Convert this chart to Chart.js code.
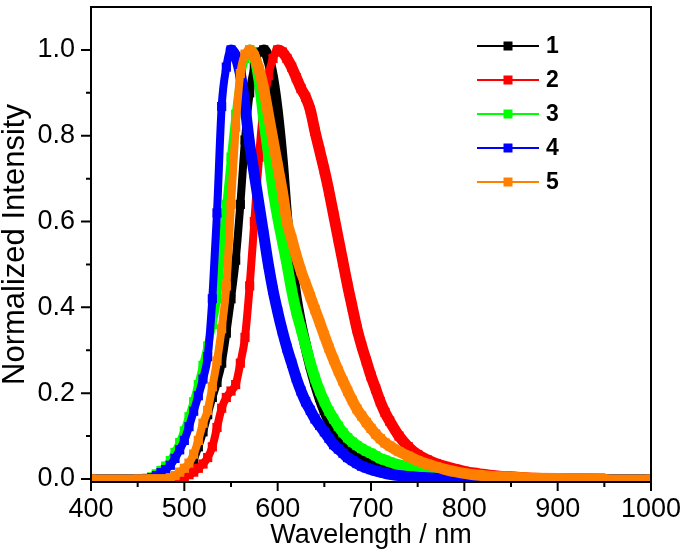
<!DOCTYPE html>
<html>
<head>
<meta charset="utf-8">
<script src="https://cdn.jsdelivr.net/npm/chart.js@4.4.1/dist/chart.umd.min.js"></script>
<style>
  html, body { margin: 0; padding: 0; background: #fff; }
</style>
</head>
<body>
<canvas id="spectra" width="686" height="554"></canvas>
<script>
// Wavelength grid (nm) shared by all five emission spectra
const wavelengths = [400, 450, 460, 465, 470, 475, 480, 485, 490, 495, 500, 505, 510, 515, 520, 525, 530, 535, 540, 545,
  550, 555, 560, 565, 570, 575, 580, 585, 590, 595, 600, 605, 610, 615, 620, 625, 630, 635, 640, 645,
  650, 655, 660, 665, 670, 675, 680, 685, 690, 695, 700, 705, 710, 715, 720, 730, 740, 750, 760, 770,
  780, 790, 800, 810, 820, 830, 840, 850, 875, 900, 950, 1000];

const series1 = [0, 0, 0, 0, 0, 0, 0, 0, 0, 0.002, 0.008, 0.025, 0.045, 0.075, 0.11, 0.15, 0.19, 0.225, 0.27, 0.34,
  0.42, 0.51, 0.64, 0.79, 0.9, 0.96, 0.995, 1.0, 0.98, 0.93, 0.85, 0.74, 0.6, 0.5, 0.42, 0.36, 0.31, 0.265, 0.225, 0.19,
  0.16, 0.135, 0.115, 0.097, 0.082, 0.07, 0.06, 0.051, 0.044, 0.038, 0.033, 0.028, 0.024, 0.02, 0.017, 0.012, 0.008, 0.005, 0.003, 0.002,
  0.001, 0, 0, 0, 0, 0, 0, 0, 0, 0, 0, 0];

const series2 = [0, 0, 0, 0, 0, 0, 0, 0, 0, 0.001, 0.004, 0.01, 0.016, 0.025, 0.035, 0.05, 0.075, 0.12, 0.165, 0.19,
  0.205, 0.22, 0.27, 0.33, 0.45, 0.6, 0.75, 0.87, 0.94, 0.98, 1.0, 0.995, 0.98, 0.96, 0.935, 0.91, 0.89, 0.86, 0.81, 0.765,
  0.72, 0.67, 0.615, 0.56, 0.505, 0.45, 0.4, 0.35, 0.31, 0.275, 0.24, 0.21, 0.18, 0.155, 0.135, 0.1, 0.075, 0.057, 0.045, 0.036,
  0.029, 0.023, 0.018, 0.014, 0.011, 0.008, 0.006, 0.005, 0.002, 0.001, 0, 0];

const series3 = [0, 0, 0.002, 0.005, 0.012, 0.02, 0.03, 0.043, 0.062, 0.085, 0.112, 0.145, 0.18, 0.22, 0.265, 0.31, 0.36, 0.42, 0.54, 0.64,
  0.75, 0.85, 0.93, 0.98, 1.0, 0.985, 0.93, 0.84, 0.76, 0.675, 0.61, 0.555, 0.5, 0.44, 0.39, 0.35, 0.31, 0.27, 0.235, 0.205,
  0.18, 0.158, 0.14, 0.123, 0.108, 0.096, 0.086, 0.078, 0.071, 0.065, 0.06, 0.054, 0.048, 0.044, 0.04, 0.033, 0.028, 0.02, 0.014, 0.009,
  0.006, 0.004, 0.002, 0.001, 0, 0, 0, 0, 0, 0, 0, 0];

const series4 = [0, 0, 0, 0.003, 0.008, 0.015, 0.022, 0.032, 0.048, 0.068, 0.09, 0.122, 0.158, 0.194, 0.233, 0.285, 0.42, 0.62, 0.868, 0.96,
  1.0, 0.985, 0.945, 0.87, 0.78, 0.71, 0.64, 0.57, 0.5, 0.44, 0.39, 0.345, 0.305, 0.27, 0.235, 0.205, 0.18, 0.16, 0.14, 0.125,
  0.11, 0.095, 0.08, 0.07, 0.06, 0.05, 0.043, 0.036, 0.03, 0.026, 0.022, 0.019, 0.016, 0.013, 0.011, 0.008, 0.006, 0.004, 0.003, 0.002,
  0.001, 0, 0, 0, 0, 0, 0, 0, 0, 0, 0, 0];

const series5 = [0, 0, 0, 0, 0, 0, 0, 0.003, 0.008, 0.016, 0.025, 0.037, 0.058, 0.09, 0.13, 0.16, 0.215, 0.275, 0.35, 0.45,
  0.64, 0.82, 0.945, 0.99, 1.0, 0.985, 0.955, 0.91, 0.85, 0.79, 0.73, 0.67, 0.6, 0.56, 0.52, 0.485, 0.455, 0.425, 0.395, 0.365,
  0.335, 0.305, 0.278, 0.252, 0.228, 0.205, 0.183, 0.163, 0.147, 0.132, 0.118, 0.105, 0.094, 0.084, 0.077, 0.064, 0.053, 0.043, 0.035, 0.028,
  0.022, 0.017, 0.013, 0.01, 0.008, 0.006, 0.005, 0.004, 0.002, 0.001, 0, 0];

const seriesLabels = ['1', '2', '3', '4', '5'];
const xTicks = [400, 500, 600, 700, 800, 900, 1000];
const xMinorTicks = [450, 550, 650, 750, 850, 950];
const yTicks = [0.0, 0.2, 0.4, 0.6, 0.8, 1.0];
const yMinorTicks = [0.1, 0.3, 0.5, 0.7, 0.9];

const colors = ['#000000', '#ff0000', '#00ff00', '#0000ff', '#ff8000'];
const FONT = "'Liberation Sans', Arial, sans-serif";

const allSeries = [series1, series2, series3, series4, series5];

// rising edges look like a dotted line of squares, falling edges a heavier band
const segWidth = c => {
  const dy = c.p1.parsed.y - c.p0.parsed.y;
  if (dy > 0) return 8;
  if (dy < 0) return 11;
  return 9;
};

const datasets = allSeries.map((vals, i) => ({
  label: seriesLabels[i],
  data: wavelengths.map((w, j) => ({ x: w, y: vals[j] })),
  borderColor: colors[i],
  backgroundColor: colors[i],
  borderWidth: 9,
  borderCapStyle: 'round',
  borderJoinStyle: 'round',
  segment: { borderWidth: segWidth },
  pointStyle: 'rect',
  pointRadius: 6.5,
  pointBorderWidth: 0,
  pointBackgroundColor: colors[i],
  cubicInterpolationMode: 'monotone',
  order: allSeries.length - i   // series 5 drawn on top
}));

// axis box + outward tick marks (major long, minor short)
const frame = {
  id: 'frame',
  afterDatasetsDraw(chart) {
    const { ctx, chartArea: a, scales: { x, y } } = chart;
    ctx.save();
    ctx.strokeStyle = '#000';
    ctx.lineWidth = 2;
    ctx.strokeRect(a.left, a.top, a.right - a.left, a.bottom - a.top);
    ctx.beginPath();
    xTicks.forEach(v => { const p = x.getPixelForValue(v); ctx.moveTo(p, a.bottom); ctx.lineTo(p, a.bottom + 9); });
    xMinorTicks.forEach(v => { const p = x.getPixelForValue(v); ctx.moveTo(p, a.bottom); ctx.lineTo(p, a.bottom + 5); });
    yTicks.forEach(v => { const p = y.getPixelForValue(v); ctx.moveTo(a.left, p); ctx.lineTo(a.left - 10, p); });
    yMinorTicks.forEach(v => { const p = y.getPixelForValue(v); ctx.moveTo(a.left, p); ctx.lineTo(a.left - 5, p); });
    ctx.stroke();
    ctx.restore();
  }
};

// legend inside the plot, top right
const insideLegend = {
  id: 'insideLegend',
  afterDraw(chart) {
    const ctx = chart.ctx;
    ctx.save();
    seriesLabels.forEach((lab, i) => {
      const yy = 46 + i * 34;
      ctx.strokeStyle = colors[i];
      ctx.lineWidth = 2;
      ctx.beginPath();
      ctx.moveTo(477, yy);
      ctx.lineTo(539, yy);
      ctx.stroke();
      ctx.fillStyle = colors[i];
      ctx.fillRect(503.5, yy - 4.5, 9, 9);
      ctx.fillStyle = '#000';
      ctx.font = 'bold 23px ' + FONT;
      ctx.textBaseline = 'middle';
      ctx.fillText(lab, 546, yy + 1);
    });
    ctx.restore();
  }
};

new Chart(document.getElementById('spectra'), {
  type: 'line',
  data: { datasets },
  options: {
    responsive: false,
    animation: false,
    layout: { padding: { top: 7, right: 35, left: 0, bottom: 0 } },
    plugins: { legend: { display: false }, tooltip: { enabled: false } },
    scales: {
      x: {
        type: 'linear',
        min: 400,
        max: 1000,
        afterBuildTicks: s => { s.ticks = xTicks.map(v => ({ value: v })); },
        afterFit: s => { s.height = 72; s.paddingLeft = 0; s.paddingRight = 0; },
        grid: { display: false, drawTicks: false },
        border: { display: false },
        ticks: { color: '#000', padding: 11, maxRotation: 0, font: { family: FONT, size: 27 }, callback: v => String(v) },
        title: { display: true, text: 'Wavelength / nm', color: '#000', padding: 0, font: { family: FONT, size: 27, lineHeight: 1.4 } }
      },
      y: {
        min: -0.007,
        max: 1.1,
        afterBuildTicks: s => { s.ticks = yTicks.map(v => ({ value: v })); },
        afterFit: s => { s.width = 91; s.paddingTop = 0; s.paddingBottom = 0; },
        grid: { display: false, drawTicks: false },
        border: { display: false },
        ticks: { color: '#000', padding: 16, font: { family: FONT, size: 27 }, callback: v => Number(v).toFixed(1) },
        title: { display: true, text: 'Normalized Intensity', color: '#000', padding: 0, font: { family: FONT, size: 31, lineHeight: 1.0 } }
      }
    }
  },
  plugins: [frame, insideLegend]
});
</script>
</body>
</html>
